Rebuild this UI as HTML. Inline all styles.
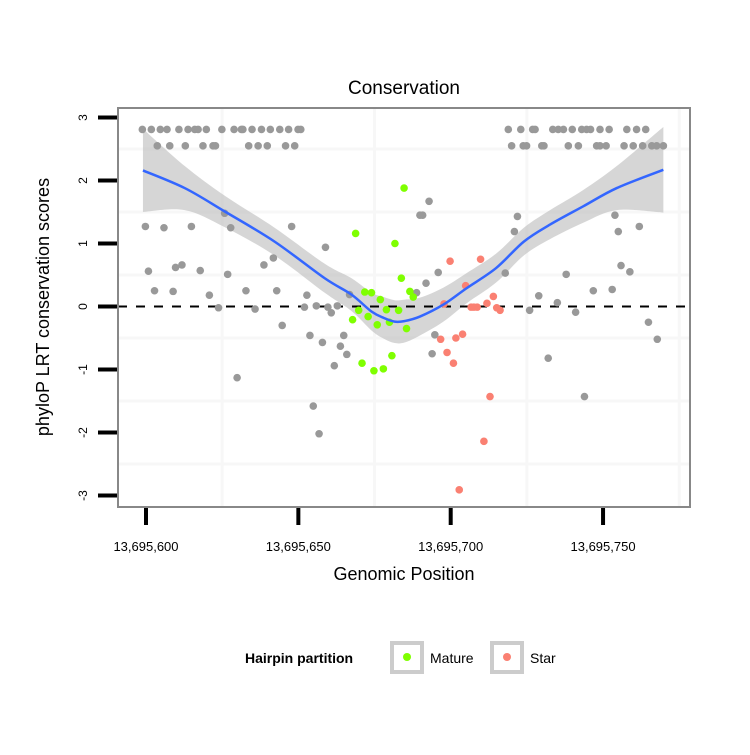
<!DOCTYPE html>
<html><head><meta charset="utf-8"><style>
html,body{margin:0;padding:0;background:#fff;}
svg text{font-family:"Liberation Sans",Arial,sans-serif;}
</style></head><body>
<svg id="chart" width="750" height="750" viewBox="0 0 750 750" xmlns="http://www.w3.org/2000/svg">
<rect x="0" y="0" width="750" height="750" fill="#fff"/>
<text x="404" y="94" font-size="19" text-anchor="middle">Conservation</text>
<rect x="118" y="108" width="572" height="399" fill="#fff"/>
<g id="grid"></g>
<g id="band"></g>
<line x1="118" x2="690" id="zeroline" stroke="#000" stroke-width="2" stroke-dasharray="9,9"/>
<g id="pts"></g>
<g id="smooth"></g>
<rect x="118" y="108" width="572" height="399" fill="none" stroke="#888" stroke-width="2"/>
<g id="xaxis"></g>
<g id="yaxis"></g>
<text x="404" y="580" font-size="18" text-anchor="middle">Genomic Position</text>
<text transform="translate(49,307) rotate(-90)" font-size="18" text-anchor="middle">phyloP LRT conservation scores</text>
<g>
<text x="245" y="663" font-size="14" font-weight="bold">Hairpin partition</text>
<g>
<rect x="392" y="643" width="30" height="29" fill="#fff" stroke="#ccc" stroke-width="4"/>
<circle cx="407" cy="657" r="4" fill="#7FFF00"/>
<text x="430" y="663" font-size="14">Mature</text>
</g>
<g>
<rect x="492" y="643" width="30" height="29" fill="#fff" stroke="#ccc" stroke-width="4"/>
<circle cx="507" cy="657" r="4" fill="#FA8072"/>
<text x="530" y="663" font-size="14">Star</text>
</g>
</g>
</svg>
<script>
// positions are offsets from 13,695,600
const xTicks = [0, 50, 100, 150];
const xTickLabels = ["13,695,600", "13,695,650", "13,695,700", "13,695,750"];
const xGrid = [25, 75, 125, 175];
const yTicks = [-3, -2, -1, 0, 1, 2, 3];
const yGrid = [-2.5, -1.5, -0.5, 0.5, 1.5, 2.5];
const otherX = [-1.2,1.75,4.7,6.9,10.8,13.8,16.0,17.1,19.8,24.9,28.9,31.3,31.8,34.8,37.9,40.8,43.9,46.8,49.9,50.8,
 3.7,7.8,12.9,18.7,22.0,22.8,33.7,36.8,39.8,45.8,48.8,
 118.9,123.0,126.9,127.7,133.5,135.3,137.0,139.9,143.0,144.6,145.9,149.0,152.0,157.8,161.0,164.0,
 120.0,123.8,124.9,129.9,130.6,138.6,141.9,147.9,149.0,151.0,156.9,159.9,163.0,166.0,167.6,169.8,
 -0.2,5.9,14.9,25.8,27.8,47.8,58.9,0.8,9.7,11.8,17.8,26.8,38.7,41.8,2.8,8.9,20.8,32.8,42.9,52.8,66.8,23.8,35.8,52.0,55.9,59.7,60.8,62.8,44.7,53.8,57.9,64.9,63.8,65.9,61.8,29.9,54.9,56.8,
 92.9,89.9,90.8,121.9,120.9,153.9,155.0,161.9,95.9,91.9,117.9,155.9,158.8,137.9,88.8,128.9,135.0,125.9,141.0,146.8,153.0,164.9,167.8,94.8,93.9,132.0,143.9];
const otherY = [2.81,2.81,2.81,2.81,2.81,2.81,2.81,2.81,2.81,2.81,2.81,2.81,2.81,2.81,2.81,2.81,2.81,2.81,2.81,2.81,
 2.55,2.55,2.55,2.55,2.55,2.55,2.55,2.55,2.55,2.55,2.55,
 2.81,2.81,2.81,2.81,2.81,2.81,2.81,2.81,2.81,2.81,2.81,2.81,2.81,2.81,2.81,2.81,
 2.55,2.55,2.55,2.55,2.55,2.55,2.55,2.55,2.55,2.55,2.55,2.55,2.55,2.55,2.55,2.55,
 1.27,1.25,1.27,1.48,1.25,1.27,0.94,0.56,0.62,0.66,0.57,0.51,0.66,0.77,0.25,0.24,0.18,0.25,0.25,0.18,0.19,-0.02,-0.04,-0.01,0.01,-0.01,-0.10,0.01,-0.30,-0.46,-0.57,-0.46,-0.63,-0.76,-0.94,-1.13,-1.58,-2.02,
 1.67,1.45,1.45,1.43,1.19,1.45,1.19,1.27,0.54,0.37,0.53,0.65,0.55,0.51,0.22,0.17,0.06,-0.06,-0.09,0.25,0.27,-0.25,-0.52,-0.45,-0.75,-0.82,-1.43];
const matureX = [84.7,68.8,81.7,83.8,71.8,74.0,76.9,69.8,72.9,78.9,82.9,67.8,75.9,79.9,85.5,80.7,70.9,74.8,77.9,86.6,87.7];
const matureY = [1.88,1.16,1.00,0.45,0.23,0.22,0.11,-0.06,-0.16,-0.05,-0.06,-0.21,-0.29,-0.25,-0.35,-0.78,-0.90,-1.02,-0.99,0.24,0.15];
const starX = [99.8,109.8,104.9,114.0,111.9,97.8,106.7,107.6,108.7,115.1,116.2,96.7,101.7,103.9,98.8,100.9,112.9,110.9,102.8];
const starY = [0.72,0.75,0.33,0.16,0.05,0.04,-0.01,-0.01,-0.01,-0.02,-0.06,-0.52,-0.50,-0.44,-0.73,-0.90,-1.43,-2.14,-2.91];
const fitX = [-1,12.7,25.8,42.2,58.6,67.4,74,78,81.6,85,89.9,97.6,105.2,114.9,124,132.6,143.5,154.5,169.8];
const fitY = [2.16,1.88,1.51,1.03,0.45,0.19,-0.08,-0.18,-0.24,-0.23,-0.16,0.03,0.29,0.61,1.03,1.30,1.59,1.88,2.17];
const fitSE = [0.66,0.35,0.25,0.22,0.23,0.26,0.3,0.33,0.34,0.34,0.3,0.27,0.24,0.23,0.22,0.23,0.26,0.35,0.68];

const NS='http://www.w3.org/2000/svg';
function sx(v){return 146+v*3.047;}
function sy(v){return 306.5-v*63;}
function mk(tag,attrs,parent){const e=document.createElementNS(NS,tag);for(const k in attrs)e.setAttribute(k,attrs[k]);parent.appendChild(e);return e;}
function curve(p){let d='M'+p[0][0]+','+p[0][1];for(let i=0;i<p.length-1;i++){const p0=p[i-1]||p[i],p1=p[i],p2=p[i+1],p3=p[i+2]||p2;
const c1=[p1[0]+(p2[0]-p0[0])/6,p1[1]+(p2[1]-p0[1])/6],c2=[p2[0]-(p3[0]-p1[0])/6,p2[1]-(p3[1]-p1[1])/6];
d+=' C'+c1[0]+','+c1[1]+' '+c2[0]+','+c2[1]+' '+p2[0]+','+p2[1];}return d;}
const grid=document.getElementById('grid');
xGrid.forEach(v=>{const l=mk('line',{x1:sx(v),x2:sx(v),y1:108,y2:507,stroke:'#f7f7f7','stroke-width':3},grid);

});
yGrid.forEach(v=>{const l=mk('line',{x1:118,x2:690,y1:sy(v),y2:sy(v),stroke:'#f7f7f7','stroke-width':3},grid);

});
const zl=document.getElementById('zeroline');zl.setAttribute('y1',sy(0));zl.setAttribute('y2',sy(0));
const upP=fitX.map((x,i)=>[sx(x),sy(fitY[i]+fitSE[i])]);
const loP=fitX.map((x,i)=>[sx(x),sy(fitY[i]-fitSE[i])]).reverse();
const band=mk('path',{d:curve(upP)+' L'+curve(loP).slice(1)+' Z',fill:'#bbb','fill-opacity':0.6},document.getElementById('band'));


const pts=document.getElementById('pts');
function drawPts(xs,ys,col,name){xs.forEach((x,i)=>{const c=mk('circle',{cx:sx(x),cy:sy(ys[i]),r:3.8,fill:col},pts);

});}
drawPts(otherX,otherY,'#999999','point-other');
drawPts(matureX,matureY,'#7FFF00','point-mature');
drawPts(starX,starY,'#FA8072','point-star');
const line=mk('path',{d:curve(fitX.map((x,i)=>[sx(x),sy(fitY[i])])),fill:'none',stroke:'#3366FF','stroke-width':2.5},document.getElementById('smooth'));


const xa=document.getElementById('xaxis');
xTicks.forEach((v,i)=>{const t=mk('line',{x1:sx(v),x2:sx(v),y1:508,y2:525,stroke:'#000','stroke-width':4},xa);


const tx=mk('text',{x:sx(v),y:551,'font-size':13,'text-anchor':'middle'},xa);tx.textContent=xTickLabels[i];

});
const ya=document.getElementById('yaxis');
yTicks.forEach(v=>{const t=mk('line',{x1:98,x2:117,y1:sy(v),y2:sy(v),stroke:'#000','stroke-width':4},ya);


const tx=mk('text',{transform:'translate(87,'+sy(v)+') rotate(-90)','font-size':12,'text-anchor':'middle'},ya);tx.textContent=String(v);

});
</script>
</body></html>
